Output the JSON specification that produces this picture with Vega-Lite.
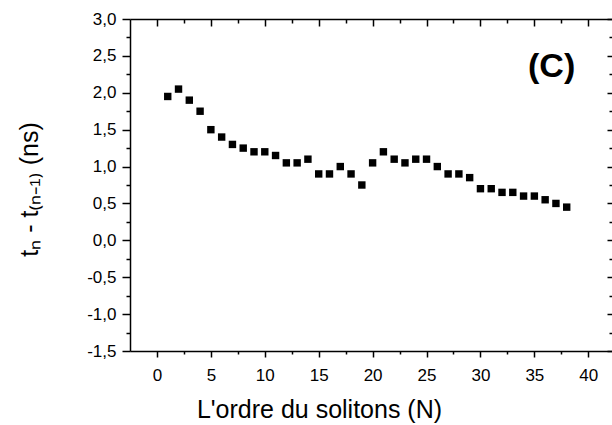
{
  "$schema": "https://vega.github.io/schema/vega-lite/v6.json",
  "width": 482,
  "height": 332,
  "autosize": "none",
  "padding": {"left": 130, "top": 19, "right": 0, "bottom": 74},
  "background": "white",
  "config": {
    "view": {"stroke": null},
    "axis": {
      "domainColor": "black", "domainWidth": 1.5, "tickColor": "black", "tickWidth": 1.5,
      "labelColor": "black", "labelFont": "Liberation Sans", "labelFontSize": 17,
      "titleColor": "black", "titleFont": "Liberation Sans", "titleFontSize": 25, "titleFontWeight": "normal",
      "grid": false, "labelFlush": false, "labelOverlap": false
    }
  },
  "data": {"values": [
    {"N": 1, "dt": 1.95}, {"N": 2, "dt": 2.05}, {"N": 3, "dt": 1.9}, {"N": 4, "dt": 1.75},
    {"N": 5, "dt": 1.5}, {"N": 6, "dt": 1.4}, {"N": 7, "dt": 1.3}, {"N": 8, "dt": 1.25},
    {"N": 9, "dt": 1.2}, {"N": 10, "dt": 1.2}, {"N": 11, "dt": 1.15}, {"N": 12, "dt": 1.05},
    {"N": 13, "dt": 1.05}, {"N": 14, "dt": 1.1}, {"N": 15, "dt": 0.9}, {"N": 16, "dt": 0.9},
    {"N": 17, "dt": 1.0}, {"N": 18, "dt": 0.9}, {"N": 19, "dt": 0.75}, {"N": 20, "dt": 1.05},
    {"N": 21, "dt": 1.2}, {"N": 22, "dt": 1.1}, {"N": 23, "dt": 1.05}, {"N": 24, "dt": 1.1},
    {"N": 25, "dt": 1.1}, {"N": 26, "dt": 1.0}, {"N": 27, "dt": 0.9}, {"N": 28, "dt": 0.9},
    {"N": 29, "dt": 0.85}, {"N": 30, "dt": 0.7}, {"N": 31, "dt": 0.7}, {"N": 32, "dt": 0.65},
    {"N": 33, "dt": 0.65}, {"N": 34, "dt": 0.6}, {"N": 35, "dt": 0.6}, {"N": 36, "dt": 0.55},
    {"N": 37, "dt": 0.5}, {"N": 38, "dt": 0.45}
  ]},
  "resolve": {"axis": {"x": "independent", "y": "independent"}},
  "layer": [
    {
      "mark": {"type": "square", "filled": true, "color": "black", "opacity": 1, "size": 55},
      "encoding": {
        "x": {"field": "N", "type": "quantitative",
          "scale": {"domain": [-2.5, 42.2], "nice": false, "zero": false},
          "axis": {"orient": "bottom", "values": [0, 5, 10, 15, 20, 25, 30, 35, 40], "tickSize": 6, "labelPadding": 10,
            "title": "L'ordre du solitons (N)", "titleX": 189, "titleY": 66, "titleAlign": "center", "titleBaseline": "alphabetic"}},
        "y": {"field": "dt", "type": "quantitative",
          "scale": {"domain": [-1.5, 3], "nice": false, "zero": false},
          "axis": {"orient": "left", "values": [-1.5, -1, -0.5, 0, 0.5, 1, 1.5, 2, 2.5, 3], "tickSize": 8, "labelPadding": 6,
            "labelExpr": "replace(replace(format(datum.value, '.1f'), '.', ','), '\u2212', '-')",
            "title": "tₙ - t₍ₙ₋₁₎  (ns)", "titleX": -93, "titleY": 170, "titleAngle": 270, "titleAlign": "center", "titleBaseline": "alphabetic"}}
      }
    },
    {
      "mark": {"type": "point", "opacity": 0},
      "encoding": {
        "x": {"field": "N", "type": "quantitative",
          "axis": {"orient": "bottom", "values": [2.5, 7.5, 12.5, 17.5, 22.5, 27.5, 32.5, 37.5], "tickSize": 3, "labels": false, "domain": false, "title": null}},
        "y": {"field": "dt", "type": "quantitative",
          "axis": {"orient": "left", "values": [-1.25, -0.75, -0.25, 0.25, 0.75, 1.25, 1.75, 2.25, 2.75], "tickSize": 4, "labels": false, "domain": false, "title": null}}
      }
    },
    {
      "mark": {"type": "point", "opacity": 0},
      "encoding": {
        "x": {"field": "N", "type": "quantitative",
          "axis": {"orient": "top", "values": [0, 5, 10, 15, 20, 25, 30, 35, 40], "tickSize": -7, "labels": false, "domain": true, "title": null}},
        "y": {"field": "dt", "type": "quantitative",
          "axis": {"orient": "right", "values": [-1.5, -1, -0.5, 0, 0.5, 1, 1.5, 2, 2.5, 3], "tickSize": -5, "labels": false, "domain": false, "title": null}}
      }
    },
    {
      "mark": {"type": "point", "opacity": 0},
      "encoding": {
        "x": {"field": "N", "type": "quantitative",
          "axis": {"orient": "top", "values": [2.5, 7.5, 12.5, 17.5, 22.5, 27.5, 32.5, 37.5], "tickSize": -4, "labels": false, "domain": false, "title": null}},
        "y": {"field": "dt", "type": "quantitative",
          "axis": {"orient": "right", "values": [-1.25, -0.75, -0.25, 0.25, 0.75, 1.25, 1.75, 2.25, 2.75], "tickSize": -3, "labels": false, "domain": false, "title": null}}
      }
    },
    {
      "data": {"values": [{"N": 36.6, "dt": 2.35, "label": "(C)"}]},
      "mark": {"type": "text", "font": "Liberation Sans", "fontWeight": "bold", "fontSize": 34, "color": "black", "align": "center", "baseline": "middle"},
      "encoding": {
        "x": {"field": "N", "type": "quantitative", "axis": null},
        "y": {"field": "dt", "type": "quantitative", "axis": null},
        "text": {"field": "label"}
      }
    }
  ]
}
